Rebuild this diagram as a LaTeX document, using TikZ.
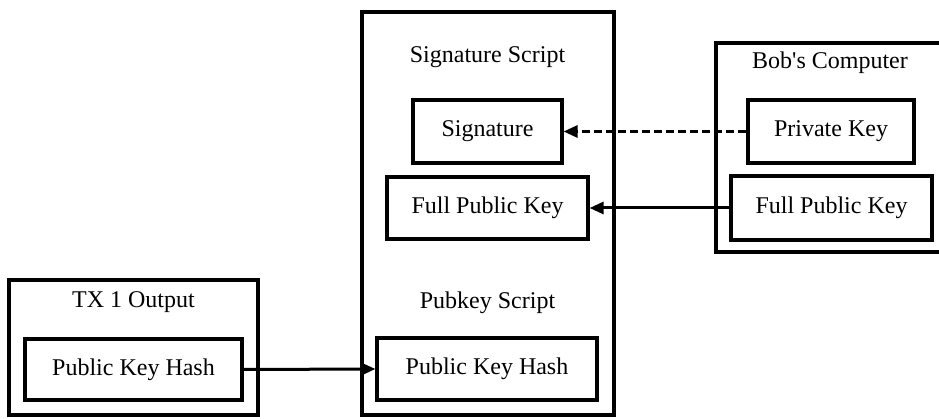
\documentclass[tikz,border=0pt]{standalone}
\usepackage{fontspec}
\setmainfont{Liberation Serif}
\usetikzlibrary{arrows.meta}
\begin{document}
\begin{tikzpicture}[x=1pt,y=-1pt,
  box/.style={draw,line width=3.2pt,rectangle,inner sep=0pt,anchor=center},
  lbl/.style={inner sep=0pt,anchor=center,font=\fontsize{24}{28}\selectfont},
  txt/.style={box,font=\fontsize{24}{28}\selectfont},
  edge/.style={line width=3pt,-{Triangle[length=14pt,width=12pt]}}]
\useasboundingbox (0,0) rectangle (939,419);
% TX 1 Output
\node[box,minimum width=249pt,minimum height=135pt] (txout) at (133.5,347.5) {};
\node[lbl] (txlbl) at (133.5,302) {TX 1 Output};
\node[txt,minimum width=217pt,minimum height=61pt] (pkh1) at (133.5,369.5) {Public Key Hash};
% Middle
\node[box,minimum width=252pt,minimum height=403pt] (mid) at (488,213.5) {};
\node[lbl] (siglbl) at (487.5,57) {Signature Script};
\node[txt,minimum width=149pt,minimum height=63pt] (sig) at (487.5,131.5) {Signature};
\node[txt,minimum width=201pt,minimum height=62pt] (fpk1) at (487.5,208) {Full Public Key};
\node[lbl] (pklbl) at (487.5,303) {Pubkey Script};
\node[txt,minimum width=220pt,minimum height=62pt] (pkh2) at (487,369) {Public Key Hash};
% Bob
\node[box,minimum width=226pt,minimum height=209pt] (bob) at (829,147.5) {};
\node[lbl] (boblbl) at (830,63) {Bob\textquotesingle s Computer};
\node[txt,minimum width=166pt,minimum height=63pt] (priv) at (831,131.5) {Private Key};
\node[txt,minimum width=201pt,minimum height=64pt] (fpk2) at (831.5,208) {Full Public Key};
% Edges
\draw[edge,dash pattern=on 8pt off 4pt] (priv.west) -- (sig.east);
\draw[edge] (fpk2.west) -- (fpk1.east);
\draw[edge] (pkh1.east) -- (pkh2.west);
\end{tikzpicture}
\end{document}
